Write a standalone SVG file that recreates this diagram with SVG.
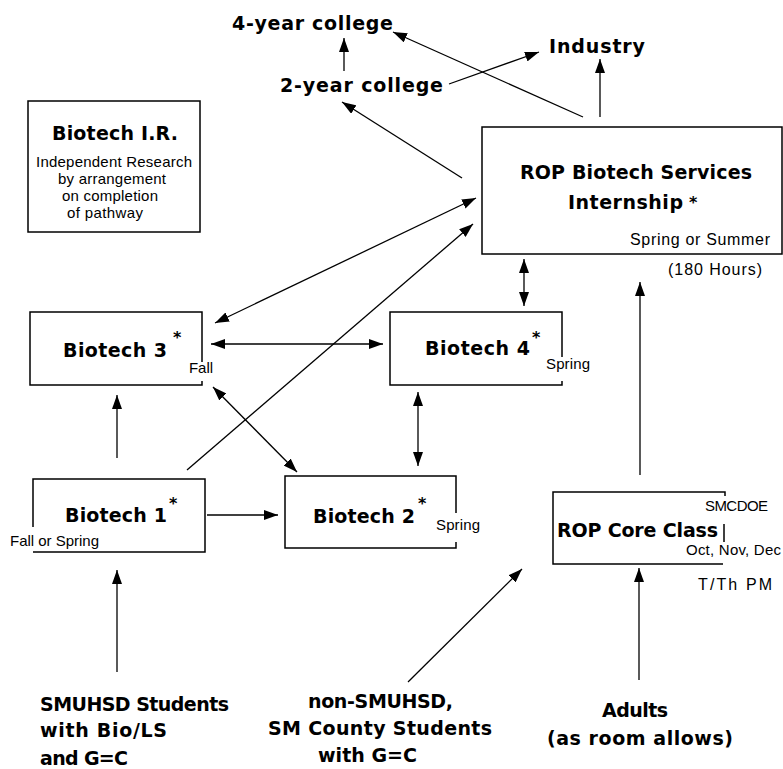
<svg xmlns="http://www.w3.org/2000/svg" width="783" height="769" viewBox="0 0 783 769">
<style>
.b{font-family:"DejaVu Sans",sans-serif;font-weight:bold;font-size:19px;fill:#000}
.s{font-family:"Liberation Sans",Arial,sans-serif;font-size:16px;fill:#000}
.xs{font-family:"Liberation Sans",Arial,sans-serif;font-size:15px;fill:#000}
.st{font-family:"DejaVu Sans",sans-serif;font-weight:bold;font-size:16px;fill:#000}
.box{fill:none;stroke:#000;stroke-width:1.5}
.c line{stroke:#000;stroke-width:1.3;fill:none}
</style>
<defs>
<marker id="ah" viewBox="0 0 14 10" refX="14" refY="5" markerWidth="14" markerHeight="10" markerUnits="userSpaceOnUse" orient="auto-start-reverse">
<path d="M0,0 L14,5 L0,10 z" fill="#000"/>
</marker>
</defs>
<rect width="783" height="769" fill="#fff"/>

<g id="four-year">
<text class="b" x="232" y="30" textLength="161">4-year college</text>
</g>
<g id="two-year">
<text class="b" x="280" y="92" textLength="163">2-year college</text>
</g>
<g id="industry">
<text class="b" x="549" y="53" textLength="96">Industry</text>
</g>

<g id="biotech-ir">
<rect class="box" x="28" y="101" width="172" height="131"/>
<text class="b" x="52" y="140" textLength="126">Biotech I.R.</text>
<text class="xs" x="36" y="167" textLength="156">Independent Research</text>
<text class="xs" x="58" y="184" textLength="108">by arrangement</text>
<text class="xs" x="62" y="201" textLength="96">on completion</text>
<text class="xs" x="67" y="218" textLength="76">of pathway</text>
</g>

<g id="internship">
<rect class="box" x="482" y="127" width="300" height="127"/>
<text class="b" x="520" y="179" textLength="232">ROP Biotech Services</text>
<text class="b" x="568" y="209" textLength="115">Internship</text>
<text class="st" x="689" y="208">*</text>
<text class="s" x="630" y="245" textLength="140">Spring or Summer</text>
<text class="s" x="668" y="275" textLength="94">(180 Hours)</text>
</g>

<g id="biotech3">
<path class="box" d="M202,362 V312 H30 V385 H202 V381"/>
<text class="b" x="63" y="357" textLength="104">Biotech 3</text>
<text class="st" x="173" y="343">*</text>
<text class="xs" x="189" y="373" textLength="24">Fall</text>
</g>

<g id="biotech4">
<path class="box" d="M562,357 V312 H390 V385 H562 V381"/>
<text class="b" x="425" y="355" textLength="105">Biotech 4</text>
<text class="st" x="532" y="343">*</text>
<text class="xs" x="546" y="369" textLength="44">Spring</text>
</g>

<g id="biotech1">
<path class="box" d="M33,527 V479 H205 V552 H33"/>
<text class="b" x="65" y="522" textLength="102">Biotech 1</text>
<text class="st" x="169" y="509">*</text>
<text class="xs" x="10" y="546" textLength="89">Fall or Spring</text>
</g>

<g id="biotech2">
<path class="box" d="M456,513 V476 H285 V548 H456 V542"/>
<text class="b" x="313" y="523" textLength="102">Biotech 2</text>
<text class="st" x="418" y="509">*</text>
<text class="xs" x="436" y="530" textLength="44">Spring</text>
</g>

<g id="core-class">
<path class="box" d="M725,496 V492 H553 V564 H723"/>
<path class="box" d="M724,524 V542"/>
<text class="xs" x="705" y="511" textLength="63">SMCDOE</text>
<text class="b" x="557" y="537" textLength="161">ROP Core Class</text>
<text class="xs" x="686" y="555" textLength="95">Oct, Nov, Dec</text>
<text class="s" x="698" y="590" textLength="74">T/Th PM</text>
</g>

<g id="smuhsd">
<text class="b" x="40" y="711" textLength="189">SMUHSD Students</text>
<text class="b" x="40" y="737" textLength="127">with Bio/LS</text>
<text class="b" x="40" y="765" textLength="88">and G=C</text>
</g>
<g id="non-smuhsd">
<text class="b" x="308" y="708" textLength="145">non-SMUHSD,</text>
<text class="b" x="268" y="735" textLength="224">SM County Students</text>
<text class="b" x="318" y="762" textLength="99">with G=C</text>
</g>
<g id="adults">
<text class="b" x="602" y="717" textLength="66">Adults</text>
<text class="b" x="547" y="745" textLength="186">(as room allows)</text>
</g>

<g id="connectors" class="c">
<line x1="344" y1="71" x2="344" y2="38" marker-end="url(#ah)"/>
<line x1="449" y1="84" x2="539" y2="52" marker-end="url(#ah)"/>
<line x1="583" y1="117" x2="393" y2="32" marker-end="url(#ah)"/>
<line x1="600" y1="117" x2="600" y2="59" marker-end="url(#ah)"/>
<line x1="462" y1="178" x2="342" y2="102" marker-end="url(#ah)"/>
<line x1="215" y1="323" x2="476" y2="198" marker-start="url(#ah)" marker-end="url(#ah)"/>
<line x1="187" y1="470" x2="473" y2="224" marker-end="url(#ah)"/>
<line x1="524" y1="259" x2="524" y2="306" marker-start="url(#ah)" marker-end="url(#ah)"/>
<line x1="211" y1="344" x2="383" y2="344" marker-start="url(#ah)" marker-end="url(#ah)"/>
<line x1="418" y1="392" x2="418" y2="466" marker-start="url(#ah)" marker-end="url(#ah)"/>
<line x1="213" y1="387" x2="297" y2="472" marker-start="url(#ah)" marker-end="url(#ah)"/>
<line x1="117" y1="458" x2="117" y2="395" marker-end="url(#ah)"/>
<line x1="207" y1="515" x2="278" y2="515" marker-end="url(#ah)"/>
<line x1="640" y1="475" x2="640" y2="282" marker-end="url(#ah)"/>
<line x1="117" y1="672" x2="117" y2="570" marker-end="url(#ah)"/>
<line x1="408" y1="682" x2="522" y2="569" marker-end="url(#ah)"/>
<line x1="639" y1="680" x2="639" y2="568" marker-end="url(#ah)"/>
</g>
</svg>
